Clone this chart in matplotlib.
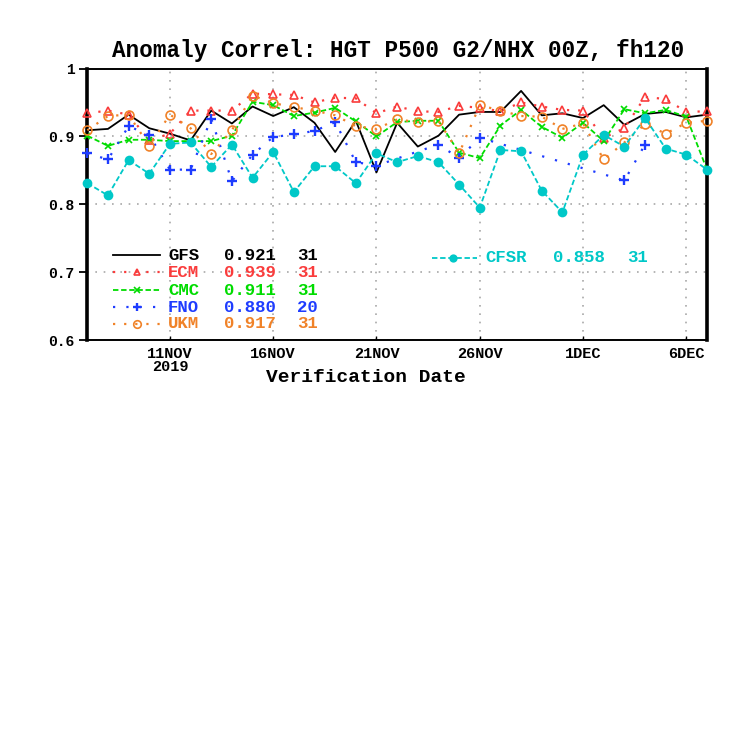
import numpy as np
import pandas as pd
import matplotlib
matplotlib.use("Agg")
import matplotlib.pyplot as plt
from matplotlib.lines import Line2D

# ---------------- data ----------------
dates = pd.date_range("2019-11-07", periods=31, freq="D")

gfs = [0.909, 0.911, 0.932, 0.912, 0.904, 0.894, 0.938, 0.919, 0.944, 0.930,
       0.943, 0.920, 0.877, 0.923, 0.847, 0.920, 0.885, 0.901, 0.932, 0.936,
       0.936, 0.967, 0.931, 0.934, 0.927, 0.946, 0.917, 0.933, 0.936, 0.928,
       0.932]
ecm = [0.934, 0.938, 0.932, 0.894, 0.904, 0.938, 0.938, 0.938, 0.963, 0.962,
       0.961, 0.950, 0.957, 0.956, 0.934, 0.944, 0.937, 0.936, 0.945, 0.942,
       0.937, 0.950, 0.944, 0.939, 0.938, 0.898, 0.912, 0.958, 0.955, 0.936,
       0.937]
cmc = [0.901, 0.886, 0.895, 0.895, 0.893, 0.893, 0.893, 0.901, 0.951, 0.946,
       0.930, 0.935, 0.942, 0.922, 0.900, 0.921, 0.923, 0.923, 0.876, 0.868,
       0.916, 0.939, 0.914, 0.898, 0.920, 0.893, 0.940, 0.934, 0.939, 0.929,
       0.851]
fno = [0.875, 0.866, 0.915, 0.902, 0.851, 0.851, 0.926, 0.834, 0.873, 0.899,
       0.903, 0.908, 0.921, 0.862, 0.857, np.nan, np.nan, 0.888, 0.868, 0.898,
       np.nan, np.nan, np.nan, np.nan, np.nan, np.nan, 0.835, 0.888, np.nan, np.nan,
       np.nan]
ukm = [0.909, 0.930, 0.932, 0.886, 0.932, 0.912, 0.874, 0.909, 0.960, 0.949,
       0.943, 0.938, 0.931, 0.915, 0.911, 0.925, 0.921, 0.923, 0.875, 0.946,
       0.938, 0.930, 0.929, 0.911, 0.919, 0.866, 0.891, 0.918, 0.904, 0.920,
       0.923]
cfsr = [0.831, 0.813, 0.865, 0.845, 0.889, 0.891, 0.855, 0.888, 0.839, 0.877,
        0.818, 0.856, 0.856, 0.831, 0.875, 0.862, 0.871, 0.862, 0.829, 0.795,
        0.880, 0.878, 0.820, 0.788, 0.873, 0.902, 0.885, 0.927, 0.882, 0.873,
        0.851]

names = ["GFS", "ECM", "CMC", "FNO", "UKM", "CFSR"]
scores = ["0.921", "0.939", "0.911", "0.880", "0.917", "0.858"]
counts = ["31", "31", "31", "20", "31", "31"]

tick_dates = ["2019-11-11", "2019-11-16", "2019-11-21", "2019-11-26", "2019-12-01", "2019-12-06"]
tick_labels = ["11NOV\n2019", "16NOV", "21NOV", "26NOV", "1DEC", "6DEC"]
ytick_vals = [0.6, 0.7, 0.8, 0.9, 1.0]
ytick_labels = ["0.6", "0.7", "0.8", "0.9", "1"]

# ---------------- style ----------------
FONT = ["Liberation Mono", "DejaVu Sans Mono"]
colors = {"GFS": "#000000", "ECM": "#fa3c3c", "CMC": "#00dc00",
          "FNO": "#1e3cff", "UKM": "#f08228", "CFSR": "#00c8c8"}
styles = {
    "GFS": dict(ls="-", lw=1.3, marker=None),
    "ECM": dict(ls=(0, (1, 4)), lw=1.6, marker="^", ms=5.8, mfc="none", mew=1.2),
    "CMC": dict(ls=(0, (3, 1.5)), lw=1.3, marker="x", ms=5.0, mew=1.2),
    "FNO": dict(ls=(0, (1, 5)), lw=1.6, marker="+", ms=7, mew=1.7),
    "UKM": dict(ls=(0, (1, 4)), lw=1.6, marker="o", ms=6.4, mfc="none", mew=1.2),
    "CFSR": dict(ls=(0, (3, 1.5)), lw=1.3, marker="o", ms=7, mew=0),
}
series = {"GFS": gfs, "ECM": ecm, "CMC": cmc, "FNO": fno, "UKM": ukm, "CFSR": cfsr}

fig = plt.figure(figsize=(7.5, 7.5), dpi=100)
W = 750.0
left, right, top, bottom = 87.3, 707.0, 68.5, 340.0
ax = fig.add_axes([left / W, 1 - bottom / W, (right - left) / W, (bottom - top) / W])

for n in names:
    y = np.array(series[n], dtype=float)
    m = ~np.isnan(y)
    st = styles[n]
    kw = dict(color=colors[n], linestyle=st["ls"], linewidth=st["lw"], clip_on=False)
    if st["marker"]:
        kw.update(marker=st["marker"], markersize=st["ms"], markeredgewidth=st["mew"],
                  markeredgecolor=colors[n])
        if "mfc" in st:
            kw["markerfacecolor"] = st["mfc"]
    ax.plot(dates[m], y[m], zorder=3, **kw)

ax.set_xlim(dates[0], dates[-1])
ax.set_ylim(0.6, 1.0)

ax.set_yticks(ytick_vals)
ax.set_yticklabels(ytick_labels, fontfamily=FONT, fontweight="bold", fontsize=10.5)
ax.set_xticks(pd.to_datetime(tick_dates))
ax.set_xticklabels(tick_labels, fontfamily=FONT, fontweight="bold", fontsize=11)
for lab in ax.get_xticklabels():
    lab.set_linespacing(0.95)

ax.tick_params(axis="y", direction="out", length=6, width=1.3, pad=3, right=False)
ax.tick_params(axis="x", direction="in", length=3, width=1.0, pad=5, top=False)

ax.grid(True, color="#a8a8a8", linestyle=(0, (1, 4)), linewidth=1.2)
ax.set_axisbelow(True)

for s in ["left", "right"]:
    ax.spines[s].set_linewidth(2.6)
for s in ["top", "bottom"]:
    ax.spines[s].set_linewidth(1.4)

fig.text(366 / W, 1 - 378 / W, "Verification Date", ha="center", va="center",
         fontfamily=FONT, fontweight="bold", fontsize=14)

fig.text(398 / W, 1 - 50 / W, "Anomaly Correl: HGT P500 G2/NHX 00Z, fh120",
         ha="center", va="center", fontfamily=FONT, fontweight="bold", fontsize=16.3)

# ---------------- legend (manual, GrADS style) ----------------
def legend_entry(n, x0, x1, xm, yrow, xname, xscore, xcount):
    st = styles[n]
    c = colors[n]
    fy = 1 - yrow / W
    line = Line2D([x0 / W, x1 / W], [fy, fy], transform=fig.transFigure,
                  color=c, linestyle=st["ls"], linewidth=st["lw"])
    fig.add_artist(line)
    if st["marker"]:
        kw = dict(marker=st["marker"], markersize=st["ms"] * 0.85, markeredgewidth=st["mew"],
                  markeredgecolor=c, color=c)
        if "mfc" in st:
            kw["markerfacecolor"] = st["mfc"]
        fig.add_artist(Line2D([xm / W], [fy], transform=fig.transFigure, linestyle="none", **kw))
    for xx, t in [(xname, n), (xscore, scores[names.index(n)]), (xcount, counts[names.index(n)])]:
        fig.text(xx / W, fy, t, ha="left", va="center", color=c,
                 fontfamily=FONT, fontweight="bold", fontsize=12.5)

rows = [255, 272.5, 290, 307.5, 324]
for n, yr in zip(names[:5], rows):
    legend_entry(n, 113, 160, 137, yr, 168, 224, 297)
legend_entry("CFSR", 432, 477, 453, 258, 485, 553, 627)

fig.savefig("out.png", dpi=100, facecolor="white")
